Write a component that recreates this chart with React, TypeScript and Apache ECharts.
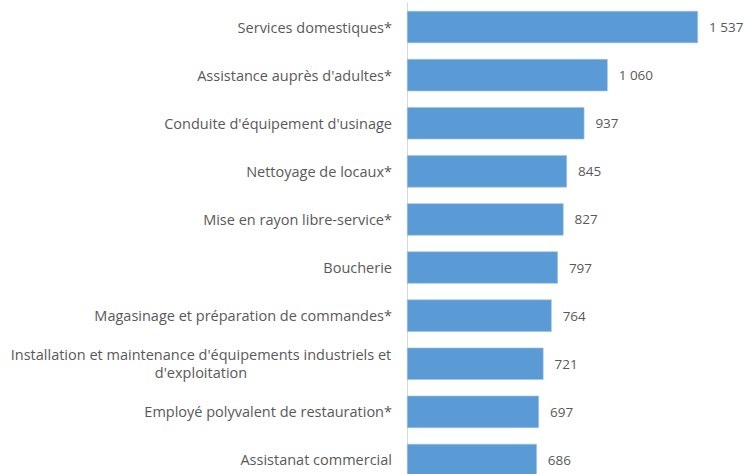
import React, { useEffect, useRef } from "react";
import * as echarts from "echarts";

const categories = [
  "Services domestiques*",
  "Assistance auprès d'adultes*",
  "Conduite d'équipement d'usinage",
  "Nettoyage de locaux*",
  "Mise en rayon libre-service*",
  "Boucherie",
  "Magasinage et préparation de commandes*",
  "Installation et maintenance d'équipements industriels et\nd'exploitation",
  "Employé polyvalent de restauration*",
  "Assistanat commercial",
];
const values = [1537, 1060, 937, 845, 827, 797, 764, 721, 697, 686];

const FONT = "Open Sans";
const FS_CAT = 14.5;
const FS_VAL = 13.5;

function fmt(v: number): string {
  return String(v).replace(/\B(?=(\d{3})+(?!\d))/g, " ");
}

export default function App() {
  const ref = useRef<HTMLDivElement>(null);
  useEffect(() => {
    document.body.style.margin = "0";
    const chart = echarts.init(ref.current!, undefined, { renderer: "svg" });
    chart.setOption({
      animation: false,
      grid: { left: 407, top: 3, width: 331.3, height: 481, containLabel: false },
      xAxis: {
        type: "value",
        min: 0,
        max: 1750,
        show: false,
      },
      yAxis: {
        type: "category",
        inverse: true,
        data: categories,
        axisLine: { show: true, lineStyle: { color: "#D9D9D9", width: 1 } },
        axisTick: { show: false },
        axisLabel: {
          margin: 15,
          color: "#595959",
          fontFamily: FONT,
          fontSize: FS_CAT,
          formatter: (v: string) => {
            if (v.indexOf("\n") >= 0) {
              return v
                .split("\n")
                .map((l) => "{c|" + l + "}")
                .join("\n");
            }
            return v;
          },
          rich: {
            c: {
              width: 382,
              align: "center",
              color: "#595959",
              fontFamily: FONT,
              fontSize: FS_CAT,
              lineHeight: 18,
            },
          },
        },
        splitLine: { show: false },
      },
      series: [
        {
          type: "bar",
          data: values,
          barCategoryGap: "33%",
          itemStyle: { color: "#5B9BD5", borderColor: "#9DC3E6", borderWidth: 0.6 },
          label: {
            show: true,
            position: "right",
            distance: 11,
            color: "#595959",
            fontFamily: FONT,
            fontSize: FS_VAL,
            formatter: (p: any) => fmt(p.value),
          },
        },
      ],
    });
    return () => chart.dispose();
  }, []);
  return (
    <div style={{ width: 747, height: 474, overflow: "hidden" }}>
      <div ref={ref} style={{ width: 747, height: 490 }} />
    </div>
  );
}
